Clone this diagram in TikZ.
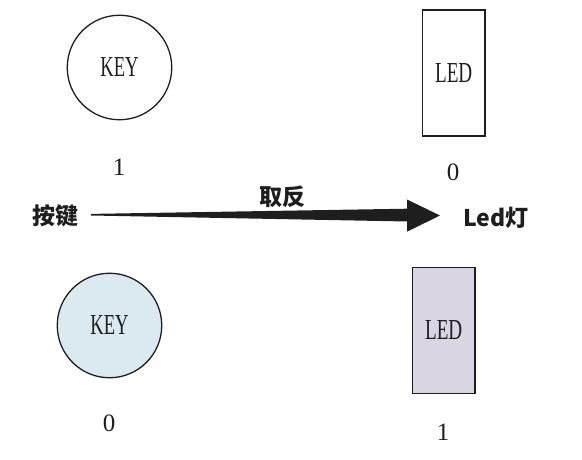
\documentclass[tikz,border=0pt]{standalone}
\usepackage{fontspec}
\usepackage{graphicx}
\usetikzlibrary{calc}
\setmainfont{Liberation Serif}
\newfontfamily\cjk{Noto Sans CJK SC}
\definecolor{keyblue}{RGB}{219,234,240}
\definecolor{ledlilac}{RGB}{217,213,227}
\definecolor{inkgray}{RGB}{30,30,30}

\begin{document}
\begin{tikzpicture}[x=1pt,y=-1pt,
  keynode/.style={circle,draw=inkgray,line width=1.3pt,minimum size=104.5pt,inner sep=0pt,font=\fontsize{29}{29}\selectfont,text=inkgray},
  lednode/.style={rectangle,draw=inkgray,line width=1.5pt,minimum width=62.7pt,minimum height=126pt,inner sep=0pt,font=\fontsize{29}{29}\selectfont,text=inkgray},
  bitnode/.style={inner sep=0pt,font=\fontsize{25}{25}\selectfont,text=inkgray},
  cjknode/.style={inner sep=0pt,font=\cjk\bfseries\fontsize{23}{23}\selectfont,text=inkgray}]
\useasboundingbox (0,0) rectangle (582,460);

% before: key pressed, led off
\node[keynode] (keyA) at (119.5,67.5) {\scalebox{0.64}[1]{KEY}};
\node[bitnode] (bitA) at (119,167) {1};
\node[lednode] (ledA) at (453.7,73) {\scalebox{0.66}[1]{LED}};
\node[bitnode] (bitB) at (453,172) {0};

% inversion arrow
\node[cjknode] (key) at (55,216) {按键};
\node[cjknode] (inv) at (282,197) {取反};
\node[cjknode] (led) at (496,218) {Led灯};
\coordinate (tail) at (91,214.7);
\coordinate (tip) at (440,215.5);
\fill[inkgray] ($(tail)+(0,-0.8)$) -- (407,208.7) -- (407,199.5) -- (tip)
  -- (407,231.7) -- (407,221.5) -- ($(tail)+(0,0.8)$) -- cycle;

% after: key released, led on
\node[keynode,fill=keyblue] (keyB) at (109.5,325.5) {\scalebox{0.64}[1]{KEY}};
\node[bitnode] (bitC) at (109,423) {0};
\node[lednode,fill=ledlilac] (ledB) at (443.7,330.5) {\scalebox{0.66}[1]{LED}};
\node[bitnode] (bitD) at (443,432) {1};

\end{tikzpicture}
\end{document}
